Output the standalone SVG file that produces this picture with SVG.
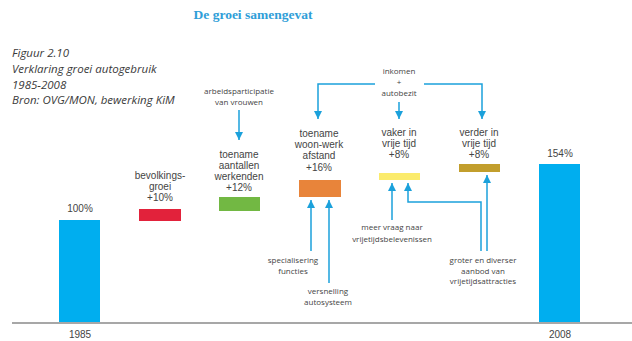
<svg xmlns="http://www.w3.org/2000/svg" width="632" height="341" viewBox="0 0 632 341">
<defs>
<style>
.t{fill:#444;text-anchor:middle}
.m{font-family:"Liberation Sans",Arial,sans-serif;font-size:10px}
.s{font-family:"Open Sans","DejaVu Sans",sans-serif;font-size:8px}
.cap{font-family:"Open Sans","Liberation Sans",sans-serif;font-style:italic;font-size:11.5px;fill:#3a3a3a}
.c{fill:none;stroke:#1ba1db;stroke-width:1.5}
</style>
<marker id="ah" viewBox="0 0 8 8" refX="8" refY="4" markerWidth="8" markerHeight="8" markerUnits="userSpaceOnUse" orient="auto">
<path d="M0,0 L8,4 L0,8 z" fill="#1ba1db"/>
</marker>
</defs>
<rect width="632" height="341" fill="#fff"/>
<text x="253" y="19" font-family="Liberation Serif,serif" font-weight="bold" font-size="13.5" fill="#2f9ed8" text-anchor="middle">De groei samengevat</text>
<g id="caption">
<text class="cap" x="12" y="57">Figuur 2.10</text>
<text class="cap" x="12" y="73">Verklaring groei autogebruik</text>
<text class="cap" x="12" y="89">1985-2008</text>
<text class="cap" x="12" y="104">Bron: OVG/MON, bewerking KiM</text>
</g>
<line x1="12" y1="323" x2="632" y2="323" stroke="#8a8a8a" stroke-width="1.5"/>
<g id="bar1985">
<rect x="59" y="220" width="41" height="102" fill="#00aeef"/>
<text class="t m" x="80" y="212">100%</text>
<text class="t m" x="80" y="338">1985</text>
</g>
<g id="bevolking">
<rect x="139" y="209" width="42" height="12" fill="#e2223b"/>
<text class="t m" x="160" y="179">bevolkings-</text>
<text class="t m" x="160" y="190.2">groei</text>
<text class="t m" x="160" y="201.4">+10%</text>
</g>
<g id="werkenden">
<rect x="219" y="197" width="41" height="14" fill="#72b843"/>
<text class="t m" x="239" y="157.5">toename</text>
<text class="t m" x="239" y="168.7">aantallen</text>
<text class="t m" x="239" y="179.9">werkenden</text>
<text class="t m" x="239" y="191.1">+12%</text>
</g>
<g id="woonwerk">
<rect x="299" y="180" width="42" height="17" fill="#e8843a"/>
<text class="t m" x="319" y="137">toename</text>
<text class="t m" x="319" y="148.2">woon-werk</text>
<text class="t m" x="319" y="159.4">afstand</text>
<text class="t m" x="319" y="170.6">+16%</text>
</g>
<g id="vaker">
<rect x="379" y="173" width="41" height="7" fill="#fbeb6c"/>
<text class="t m" x="399" y="136">vaker in</text>
<text class="t m" x="399" y="147.2">vrije tijd</text>
<text class="t m" x="399" y="158.4">+8%</text>
</g>
<g id="verder">
<rect x="459" y="164" width="41" height="8" fill="#c29e2c"/>
<text class="t m" x="479" y="136">verder in</text>
<text class="t m" x="479" y="147.2">vrije tijd</text>
<text class="t m" x="479" y="158.4">+8%</text>
</g>
<g id="bar2008">
<rect x="539" y="164" width="41" height="158" fill="#00aeef"/>
<text class="t m" x="560" y="157">154%</text>
<text class="t m" x="560" y="338">2008</text>
</g>
<g id="arbeid">
<text class="t s" x="239" y="94">arbeidsparticipatie</text>
<text class="t s" x="239" y="105">van vrouwen</text>
</g>
<g id="inkomen">
<text class="t s" x="399" y="74">inkomen</text>
<text class="t s" x="399" y="85">+</text>
<text class="t s" x="399" y="96">autobezit</text>
</g>
<g id="specialisering">
<text class="t s" x="293" y="263">specialisering</text>
<text class="t s" x="293" y="274">functies</text>
</g>
<g id="versnelling">
<text class="t s" x="328" y="294">versnelling</text>
<text class="t s" x="328" y="305">autosysteem</text>
</g>
<g id="meervraag">
<text class="t s" x="392" y="230">meer vraag naar</text>
<text class="t s" x="392" y="242">vrijetijdsbelevenissen</text>
</g>
<g id="aanbod">
<text class="t s" x="483" y="263">groter en diverser</text>
<text class="t s" x="483" y="274">aanbod van</text>
<text class="t s" x="483" y="284">vrijetijdsattracties</text>
</g>
<g id="connectors">
<path class="c" marker-end="url(#ah)" d="M239,110 V140"/>
<path class="c" marker-end="url(#ah)" d="M375,84 H318 V119"/>
<path class="c" marker-end="url(#ah)" d="M399,102 V119"/>
<path class="c" marker-end="url(#ah)" d="M424,84 H482 V119"/>
<path class="c" marker-end="url(#ah)" d="M311,251 V200"/>
<path class="c" marker-end="url(#ah)" d="M329,283 V200"/>
<path class="c" marker-end="url(#ah)" d="M392,220 V183"/>
<path class="c" marker-end="url(#ah)" d="M481,251 V202 H408 V183"/>
<path class="c" marker-end="url(#ah)" d="M487,251 V175"/>
</g>
</svg>
